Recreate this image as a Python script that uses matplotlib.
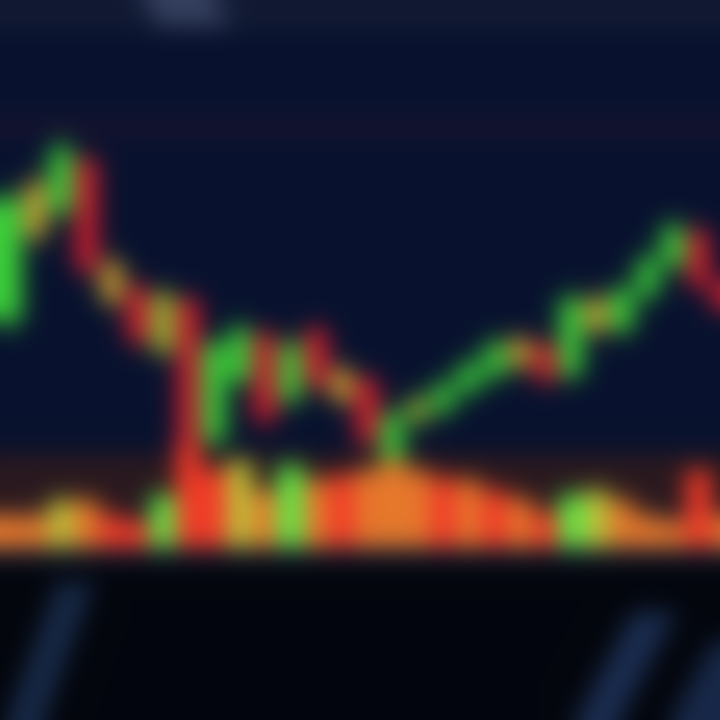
import numpy as np
import matplotlib
matplotlib.use("Agg")
import matplotlib.pyplot as plt

# price candles (open / close / high / low), one per session
opens = [400, 485, 510, 560, 455, 430, 370, 420, 280, 340, 385, 320, 390, 350, 340, 260, 300, 310, 330, 345, 380, 375, 345, 420, 390, 425, 455, 488, 440]
closes = [520, 535, 570, 450, 420, 380, 425, 260, 375, 390, 300, 375, 335, 320, 280, 305, 320, 335, 355, 375, 355, 340, 420, 390, 430, 460, 492, 435, 410]
highs = [530, 545, 580, 565, 465, 440, 432, 425, 382, 398, 392, 382, 395, 355, 345, 310, 325, 340, 360, 382, 385, 380, 428, 425, 435, 466, 500, 495, 445]
lows = [390, 475, 500, 445, 412, 372, 362, 250, 272, 334, 295, 314, 328, 315, 270, 255, 295, 305, 325, 340, 350, 335, 340, 385, 385, 420, 450, 430, 405]
candle_tone = ["g", "y", "g", "r", "y", "r", "o", "r", "g", "g", "r", "g", "r", "y", "r", "g", "o", "g", "g", "g", "y", "r", "g", "y", "g", "g", "g", "r", "r"]

# volume bars under the price pane
volume = [33, 33, 48, 48, 33, 28, 53, 103, 78, 88, 58, 83, 68, 73, 78, 88, 78, 70, 68, 58, 50, 36, 53, 58, 48, 33, 28, 78, 33]
volume_tone = ["o", "o", "y", "o", "r", "r", "g", "r", "r", "y", "o", "g", "o", "r", "o", "o", "o", "r", "o", "r", "o", "r", "g", "y", "o", "o", "o", "r", "o"]

tones = {"g": "#3cd03a", "r": "#d0202e", "y": "#c8a034", "o": "#90b834"}
vtones = {"g": "#5cf448", "r": "#fa3c28", "o": "#ee7c2c", "y": "#c2c83a"}

W = H = 720
idx = np.arange(len(opens))
step = 25.5
x0 = -10 / step
x1 = (W - 10) / step

fig = plt.figure(figsize=(7.2, 7.2), dpi=100)
fig.patch.set_facecolor("#08122e")

# background layers
bg = fig.add_axes([0, 0, 1, 1])
bg.set_xlim(0, 1)
bg.set_ylim(0, 1)
bg.axis("off")
bg.axhspan(0.958, 1, color="#121a33")
bg.axhspan(0.0, 0.235, color="#03060d")
bg.axhspan(0.222, 0.238, color="#141c36")
bg.axhspan(0.815, 0.835, color="#1c1430")
bg.axhspan(0.29, 0.37, color="#2e1a1e", alpha=0.9)
bg.fill([0.2, 0.3, 0.32, 0.22], [1.0, 1.0, 0.965, 0.965], color="#34405e")
bg.fill([0.01, 0.06, 0.13, 0.08], [0.0, 0.0, 0.19, 0.19], color="#182a48")
bg.fill([0.8, 0.86, 0.94, 0.88], [0.0, 0.0, 0.15, 0.15], color="#1b2d50")
bg.fill([0.93, 1.0, 1.0, 0.99], [0.0, 0.0, 0.11, 0.11], color="#182848")

# price pane
ax = fig.add_axes([0, 0, 1, 1])
ax.patch.set_alpha(0)
ax.set_xlim(x0, x1)
ax.set_ylim(0, H)
ax.axis("off")
ccol = [tones[t] for t in candle_tone]
ax.vlines(idx, lows, highs, colors=ccol, linewidth=5)
body = np.array(closes) - np.array(opens)
ax.bar(idx, body, bottom=opens, width=0.92, color=ccol)

# volume pane
axv = fig.add_axes([0, 172 / H, 1, 120 / H])
axv.patch.set_alpha(0)
axv.set_xlim(x0, x1)
axv.set_ylim(0, 120)
axv.axis("off")
axv.bar(idx, volume, width=0.95, color=[vtones[t] for t in volume_tone])

fig.canvas.draw()
img = np.asarray(fig.canvas.buffer_rgba())[:, :, :3].astype(float) / 255
plt.close(fig)


def blur(a, sigma):
    r = int(3 * sigma)
    k = np.exp(-0.5 * (np.arange(-r, r + 1) / sigma) ** 2)
    k /= k.sum()
    p = np.pad(a, ((r, r), (0, 0), (0, 0)), mode="edge")
    a = sum(k[i] * p[i:i + a.shape[0]] for i in range(2 * r + 1))
    p = np.pad(a, ((0, 0), (r, r), (0, 0)), mode="edge")
    a = sum(k[i] * p[:, i:i + a.shape[1]] for i in range(2 * r + 1))
    return a


out = np.clip(blur(img, 12.0), 0, 1)

fig2 = plt.figure(figsize=(7.2, 7.2), dpi=100)
fig2.figimage(out, 0, 0, origin="upper")
fig2.savefig("out.png", dpi=100)
